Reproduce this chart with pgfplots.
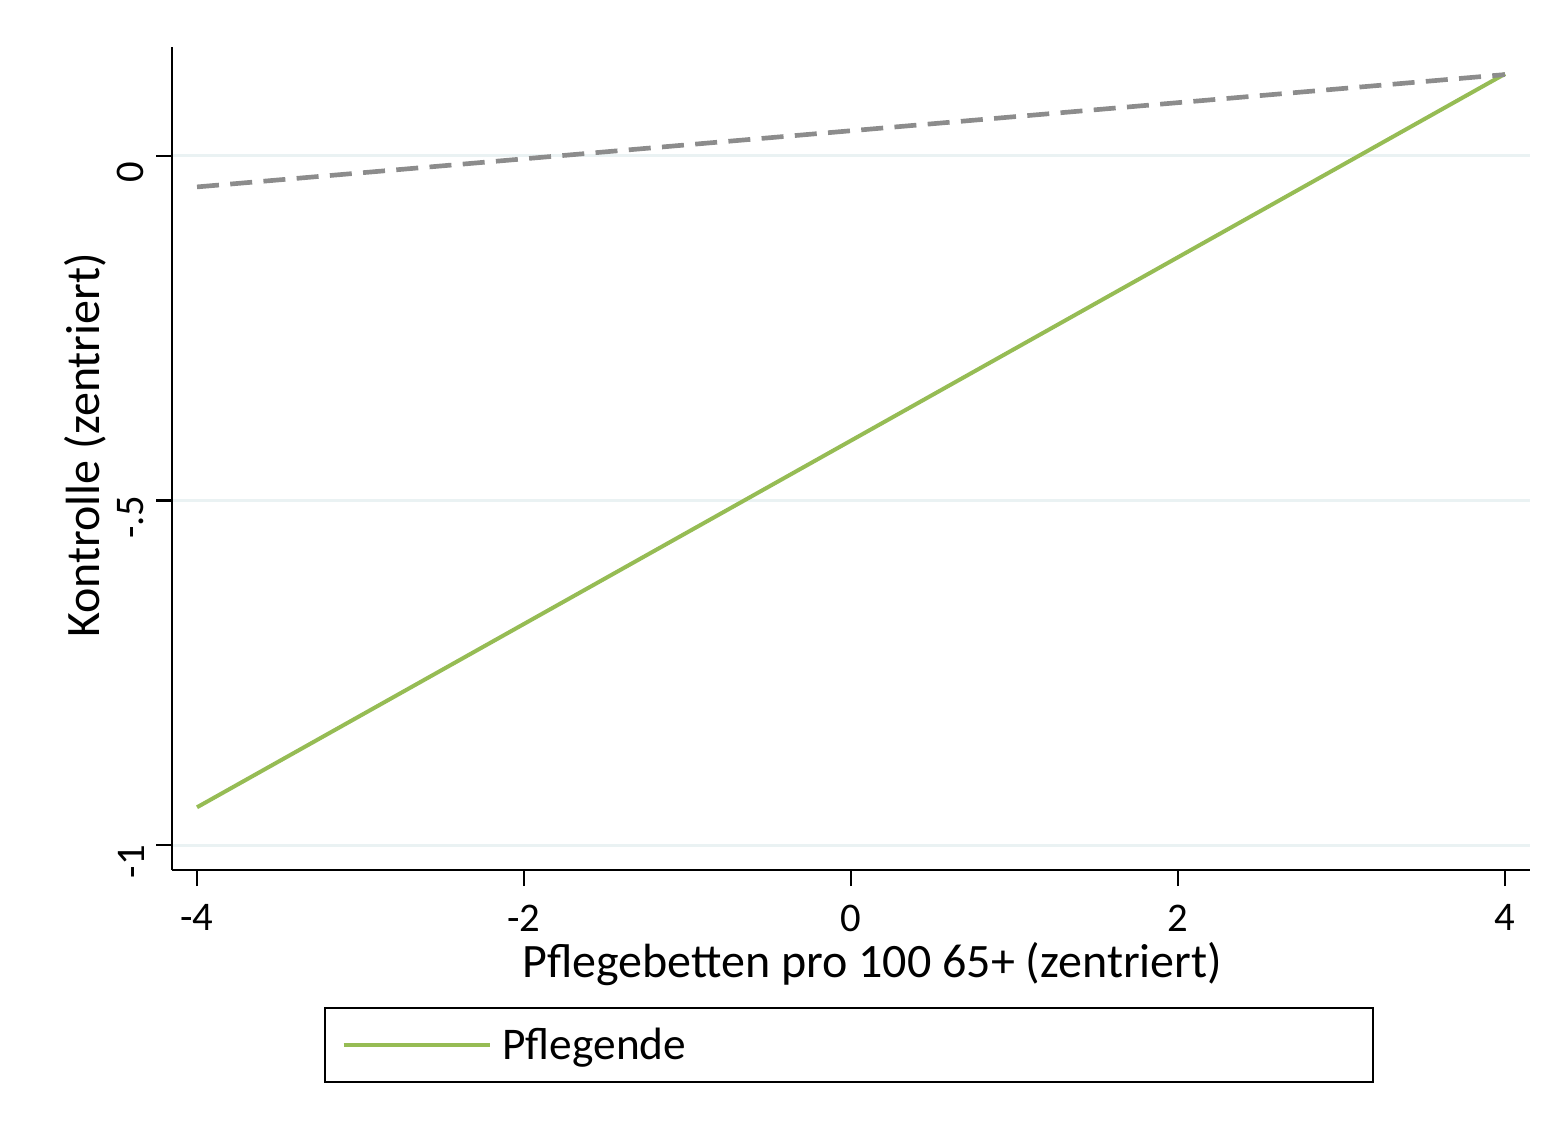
\documentclass[border=0pt]{standalone}
\usepackage{fontspec}
\setmainfont{Carlito}
\usepackage{pgfplots}
\pgfplotsset{compat=1.18}
\definecolor{pgreen}{RGB}{150,188,84}
\definecolor{pgray}{RGB}{140,140,140}
\definecolor{gridc}{RGB}{234,242,243}
\begin{document}
\begin{tikzpicture}
\useasboundingbox (-51.6pt,-78.9pt) rectangle (416.1pt,261pt);
\begin{axis}[
  at={(0pt,0pt)}, anchor=south west,
  scale only axis, width=407.4pt, height=246.9pt,
  xmin=-4.153, xmax=4.153, ymin=-1.036, ymax=0.158,
  axis lines*=left, axis line style={line width=0.75pt, black},
  xtick={-4,-2,0,2,4}, xticklabels={-4,-2,0,2,4},
  ytick={-1,-0.5,0}, yticklabels={-1,-.5,0},
  tick align=outside, major tick length=4.8pt,
  tick style={line width=0.75pt, black},
  ymajorgrids, grid style={gridc, line width=0.9pt},
  /pgf/number format/assume math mode=true,
  ticklabel style={font=\fontsize{12.2}{14}\selectfont},
  xticklabel style={anchor=north, inner sep=0pt, yshift=-5.4pt},
  yticklabel style={rotate=90, anchor=south, xshift=-5pt},
  xlabel={Pflegebetten pro 100 65+ (zentriert)},
  ylabel={Kontrolle (zentriert)},
  label style={font=\fontsize{14.4}{16}\selectfont},
  xlabel style={at={(axis description cs:0.5155,-0.114)}, anchor=center, inner sep=0pt},
  ylabel style={at={(axis description cs:-0.064,0.516)}, anchor=center, rotate=0},
  legend style={at={(axis description cs:0.4985,-0.2126)}, anchor=center,
    draw=black, line width=0.6pt, inner xsep=5pt, inner ysep=4pt,
    font=\fontsize{13.6}{15}\selectfont},
  legend image code/.code={\draw[#1] (0pt,0pt) -- (43.8pt,0pt);},
  clip=false,
]
\addplot[pgreen, line width=1.2pt] coordinates {(-4,-0.945) (4,0.119)};
\addlegendentry{\makebox[255.4pt][l]{\hspace{1.2pt}\raisebox{-1pt}{Pflegende}}}
\addplot[pgray, line width=1.4pt, dash pattern=on 6.6pt off 3.4pt, forget plot] coordinates {(-4,-0.045) (4,0.118)};
\end{axis}
\end{tikzpicture}
\end{document}
